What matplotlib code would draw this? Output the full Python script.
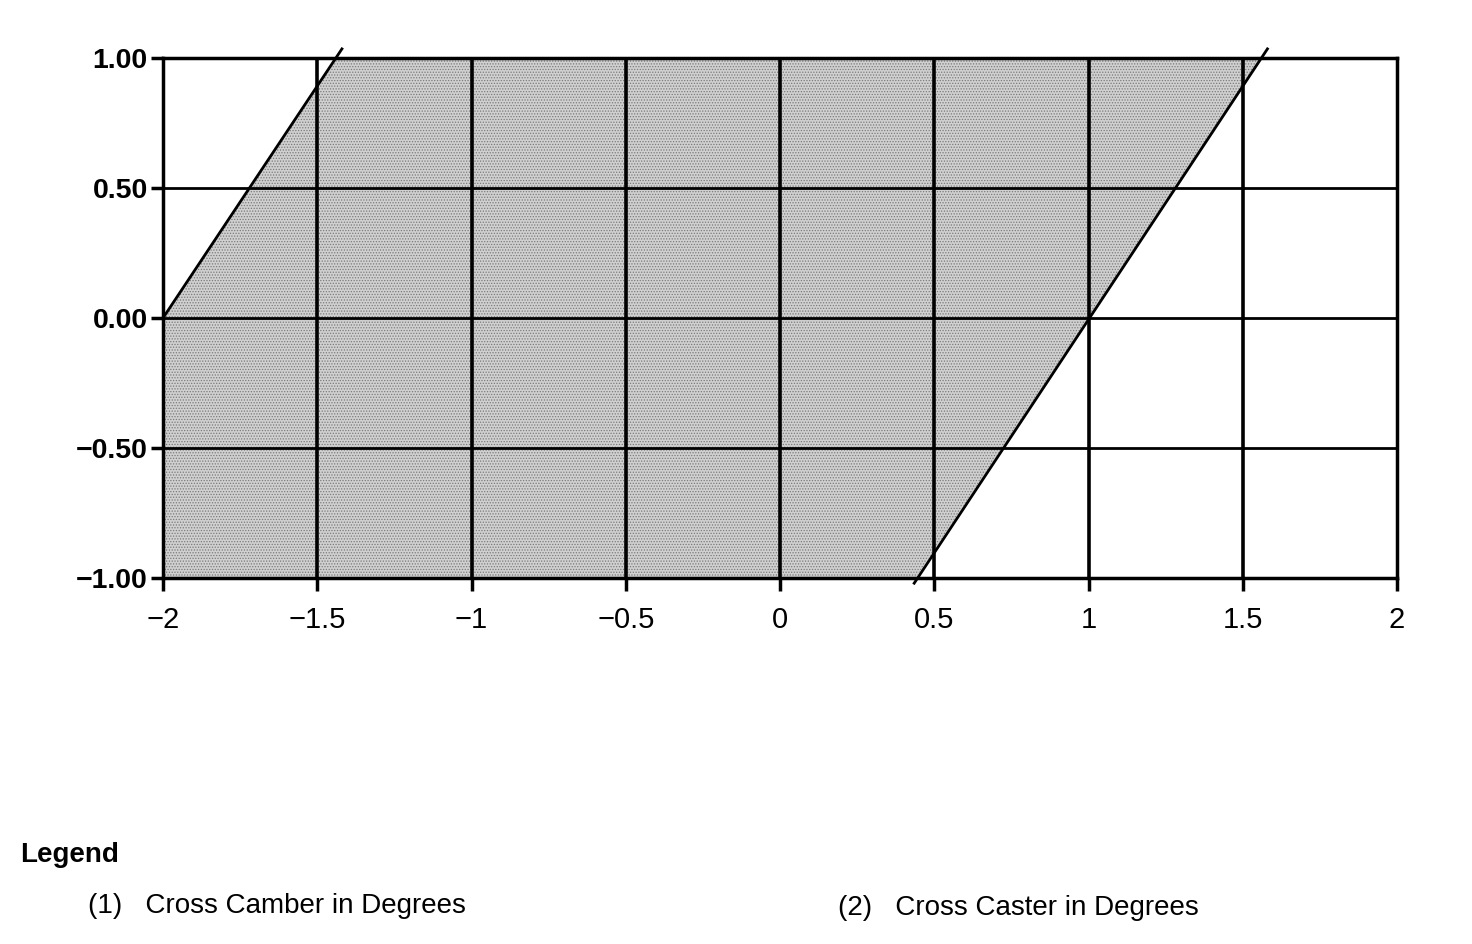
import matplotlib
matplotlib.use("Agg")
import matplotlib.pyplot as plt
import numpy as np

plt.rcParams['font.family'] = ['Liberation Sans', 'DejaVu Sans']
plt.rcParams['hatch.linewidth'] = 0.6
plt.rcParams['axes.unicode_minus'] = True

# Region boundary (Cross Camber on x, Cross Caster on y)
region_x = [-2.0, -2.0, -1.44, 1.56, 0.44]
region_y = [-1.0, 0.0, 1.0, 1.0, -1.0]

# Left boundary line
left_line_x = [-2.0, -1.42]
left_line_y = [0.0, 1.035]
# Right boundary line
right_line_x = [0.435, 1.58]
right_line_y = [-1.02, 1.035]

x_ticks = [-2, -1.5, -1, -0.5, 0, 0.5, 1, 1.5, 2]
x_tick_labels = ['\u22122', '\u22121.5', '\u22121', '\u22120.5', '0', '0.5', '1', '1.5', '2']
y_ticks = [-1.0, -0.5, 0.0, 0.5, 1.0]
y_tick_labels = ['\u22121.00', '\u22120.50', '0.00', '0.50', '1.00']

legend_title = 'Legend'
legend_items = ['(1)   Cross Camber in Degrees', '(2)   Cross Caster in Degrees']

fig = plt.figure(figsize=(14.72, 9.44), dpi=100)
ax = fig.add_axes([163/1472, 1-578/944, (1397-163)/1472, (578-58)/944])

ax.fill(region_x, region_y, facecolor='#d0d0d0', edgecolor='#7a7a7a', hatch='......', linewidth=0, zorder=1)

ax.set_xlim(-2, 2)
ax.set_ylim(-1, 1)
ax.set_xticks(x_ticks)
ax.set_xticklabels(x_tick_labels, fontsize=21)
ax.set_yticks(y_ticks)
ax.set_yticklabels(y_tick_labels, fontsize=20.5, fontweight='bold')

for v in x_ticks[1:-1]:
    ax.axvline(v, color='black', lw=2.6, zorder=2)
for v in y_ticks[1:-1]:
    ax.axhline(v, color='black', lw=2.0, zorder=2)

ax.plot(left_line_x, left_line_y, color='black', lw=2.0, clip_on=False, zorder=3)
ax.plot(right_line_x, right_line_y, color='black', lw=2.0, clip_on=False, zorder=3)

for s in ax.spines.values():
    s.set_linewidth(2.5)
    s.set_zorder(4)

ax.tick_params(axis='both', direction='out', length=9, width=2.5, color='black')
ax.tick_params(axis='x', pad=11)
ax.tick_params(axis='y', pad=2)

fig.text(20/1472, 1-855/944, legend_title, fontsize=20, fontweight='bold', va='center', ha='left')
fig.text(88/1472, 1-906/944, legend_items[0], fontsize=20, va='center', ha='left')
fig.text(838/1472, 1-908/944, legend_items[1], fontsize=20, va='center', ha='left')

fig.savefig('out.png', dpi=100)
